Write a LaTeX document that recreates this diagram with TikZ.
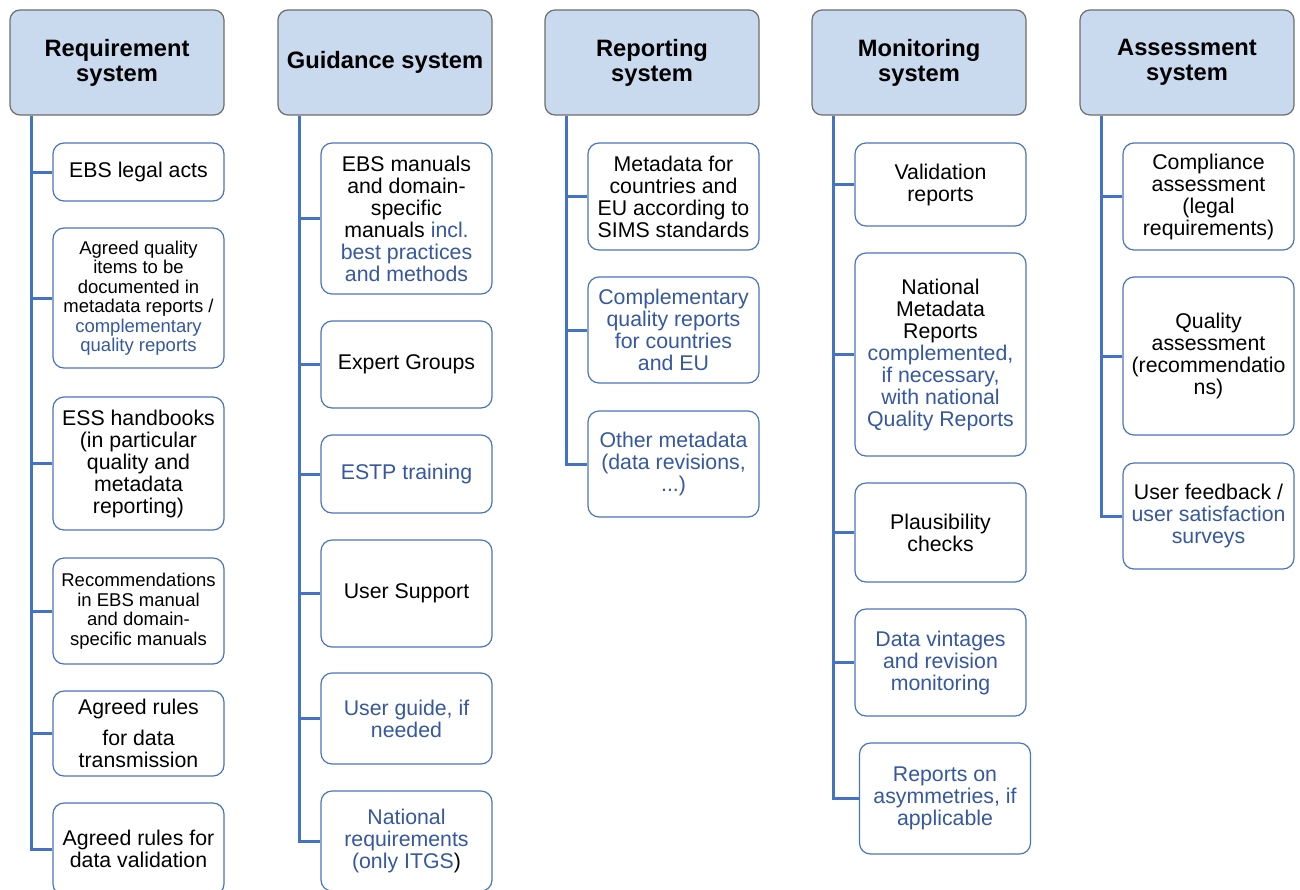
\documentclass[tikz,border=0pt]{standalone}
\usepackage{fontspec}
\setmainfont{Liberation Sans}
\usetikzlibrary{calc}
\definecolor{hdrfill}{HTML}{C9DAEF}
\definecolor{hdrdraw}{HTML}{6E6E6E}
\definecolor{boxdraw}{HTML}{4A74C0}
\definecolor{bluetext}{HTML}{3558A0}
\definecolor{trunkcol}{HTML}{4472C4}
\newcommand{\bt}[1]{\textcolor{bluetext}{#1}}
\begin{document}
\begin{tikzpicture}[x=1pt,y=-1pt,
  hdr/.style={draw=hdrdraw, fill=hdrfill, line width=1.2pt, rounded corners=10pt,
    minimum width=214pt, minimum height=105pt, align=center, inner sep=0pt,
    font=\bfseries\fontsize{23.7}{25}\selectfont},
  item/.style={draw=boxdraw, fill=white, line width=1.2pt, rounded corners=11pt,
    minimum width=171pt, align=center, inner sep=0pt,
    font=\fontsize{21.3}{22}\selectfont},
  small/.style={font=\fontsize{18.5}{19.5}\selectfont},
  trunk/.style={draw=trunkcol, line width=3pt}]
\fill[white] (0,0) rectangle (1300,889);
\useasboundingbox (0,0) rectangle (1300,889);

% headers
\node[hdr] (h1) at (117,62.5) {Requirement\\system};
\node[hdr] (h2) at (385,62.5) {Guidance system};
\node[hdr] (h3) at (652,62.5) {Reporting\\system};
\node[hdr] (h4) at (919,62.5) {Monitoring\\system};
\node[hdr] (h5) at (1187,62.5) {Assessment\\system};

% column 1
\node[item, minimum height=58pt]  (r1) at (138.5,172) {EBS legal acts};
\node[item, small, minimum height=140pt] (r2) at (138.5,298) {Agreed quality\\items to be\\documented in\\metadata reports /\\\bt{complementary}\\\bt{quality reports}};
\node[item, minimum height=133pt] (r3) at (138.5,463.5) {ESS handbooks\\(in particular\\quality and\\metadata\\reporting)};
\node[item, small, minimum height=106pt] (r4) at (138.5,611) {Recommendations\\in EBS manual\\and domain-\\specific manuals};
\node[item, minimum height=85pt] (r5) at (138.5,733.5) {Agreed rules\\[9pt]for data\\transmission};
\node[item, minimum height=92pt] (r6) at (138.5,849) {Agreed rules for\\data validation};

% column 2
\node[item, minimum height=151pt] (g1) at (406.5,218.5) {EBS manuals\\and domain-\\specific\\manuals \bt{incl.}\\\bt{best practices}\\\bt{and methods}};
\node[item, minimum height=87pt] (g2) at (406.5,364.5) {Expert Groups};
\node[item, minimum height=78pt] (g3) at (406.5,474) {\bt{ESTP training}};
\node[item, minimum height=107pt] (g4) at (406.5,593.5) {User Support};
\node[item, minimum height=91pt] (g5) at (406.5,718.5) {\bt{User guide, if}\\\bt{needed}};
\node[item, minimum height=100pt] (g6) at (406.5,841) {\bt{National}\\\bt{requirements}\\\bt{(only ITGS})};

% column 3
\node[item, minimum height=107pt] (p1) at (673.5,196.5) {Metadata for\\countries and\\EU according to\\SIMS standards};
\node[item, minimum height=106pt] (p2) at (673.5,330) {\bt{Complementary}\\\bt{quality reports}\\\bt{for countries}\\\bt{and EU}};
\node[item, minimum height=106pt] (p3) at (673.5,464) {\bt{Other metadata}\\\bt{(data revisions,}\\\bt{...)}};

% column 4
\node[item, minimum height=83pt] (m1) at (940.5,184.5) {Validation\\reports};
\node[item, minimum height=203pt] (m2) at (940.5,354.5) {National\\Metadata\\Reports\\\bt{complemented,}\\\bt{if necessary,}\\\bt{with national}\\\bt{Quality Reports}};
\node[item, minimum height=99pt] (m3) at (940.5,532.5) {Plausibility\\checks};
\node[item, minimum height=107pt] (m4) at (940.5,662.5) {\bt{Data vintages}\\\bt{and revision}\\\bt{monitoring}};
\node[item, minimum height=111pt] (m5) at (945,798.5) {\bt{Reports on}\\\bt{asymmetries, if}\\\bt{applicable}};

% column 5
\node[item, minimum height=107pt] (a1) at (1208.5,196.5) {Compliance\\assessment\\(legal\\requirements)};
\node[item, minimum height=158pt] (a2) at (1208.5,356) {Quality\\assessment\\(recommendatio\\ns)};
\node[item, minimum height=106pt] (a3) at (1208.5,516) {User feedback /\\\bt{user satisfaction}\\\bt{surveys}};

% trunks and branches
\coordinate (t1) at ($(h1.south west)+(22,0)$);
\coordinate (t2) at ($(h2.south west)+(22,0)$);
\coordinate (t3) at ($(h3.south west)+(22,0)$);
\coordinate (t4) at ($(h4.south west)+(22,0)$);
\coordinate (t5) at ($(h5.south west)+(22,0)$);

\draw[trunk] (t1) |- (r6.west);
\foreach \n in {r1,r2,r3,r4,r5} \draw[trunk] (t1 |- \n.west) -- (\n.west);
\draw[trunk] (t2) |- (g6.west);
\foreach \n in {g1,g2,g3,g4,g5} \draw[trunk] (t2 |- \n.west) -- (\n.west);
\draw[trunk] (t3) |- (p3.west);
\foreach \n in {p1,p2} \draw[trunk] (t3 |- \n.west) -- (\n.west);
\draw[trunk] (t4) |- (m5.west);
\foreach \n in {m1,m2,m3,m4} \draw[trunk] (t4 |- \n.west) -- (\n.west);
\draw[trunk] (t5) |- (a3.west);
\foreach \n in {a1,a2} \draw[trunk] (t5 |- \n.west) -- (\n.west);
\end{tikzpicture}
\end{document}
